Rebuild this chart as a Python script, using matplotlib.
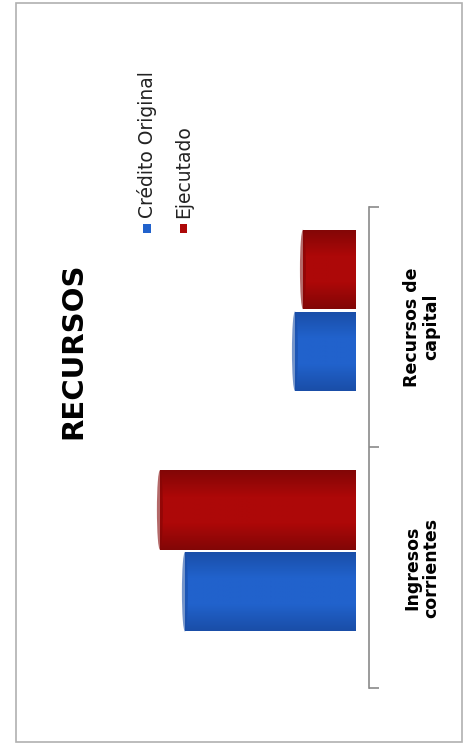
import numpy as np
import matplotlib
matplotlib.use('Agg')
import matplotlib.pyplot as plt
from matplotlib.patches import Rectangle, Ellipse
from matplotlib.colors import LinearSegmentedColormap

# ---------------------------------------------------------------------------
# Data (no value axis is shown, units are relative)
# ---------------------------------------------------------------------------

categories = ['Ingresos\ncorrientes', 'Recursos de\ncapital']
credito_original = [170, 60]
ejecutado = [195, 52]

series_names = ['Crédito Original', 'Ejecutado']
series_colors = ['#2162cc', '#ad0808']
series_dark = ['#1a4ea8', '#820606']

plt.rcParams['font.family'] = ['DejaVu Sans']

fig = plt.figure(figsize=(4.72, 7.47), dpi=100)

# page border from the scan
fig.patches.append(Rectangle((0.034, 0.007), 0.945, 0.989, transform=fig.transFigure,
                             fill=False, ec='#b0b0b0', lw=1.2))

ax = fig.add_axes([0.254, 0.079, 0.498, 0.644])

y = np.arange(len(categories))
h = 0.33
offsets = [-0.10, 0.24]


def cylinder(bar, light, dark):
    """shade a barh patch like a cylinder and put a cap on its open end"""
    x0, y0 = bar.get_x(), bar.get_y()
    w, hh = bar.get_width(), bar.get_height()
    cmap = LinearSegmentedColormap.from_list('c', [dark, light, light, dark])
    grad = np.linspace(0, 1, 64).reshape(-1, 1)
    im = ax.imshow(grad, cmap=cmap, aspect='auto', extent=(x0, x0 + w, y0, y0 + hh),
                   origin='lower', zorder=2)
    im.set_clip_path(bar)
    cap = Ellipse((x0 + w, y0 + hh / 2), width=6, height=hh, fc=dark, ec='none',
                  alpha=0.6, zorder=3)
    ax.add_patch(cap)


for vals, off, c, d in zip([credito_original, ejecutado], offsets, series_colors, series_dark):
    bars = ax.barh(y + off, vals, height=h, color=c, zorder=1)
    for b in bars:
        cylinder(b, c, d)

ax.set_xlim(235, 0)
ax.set_ylim(-0.5, 1.5)

for s in ['top', 'left', 'bottom']:
    ax.spines[s].set_visible(False)
ax.spines['right'].set_position(('outward', 10))
ax.spines['right'].set_color('#8a8a8a')
ax.spines['right'].set_linewidth(1.2)

ax.set_xticks([])
ax.yaxis.tick_right()
ax.set_yticks(y)
ax.set_yticklabels(categories, rotation=90, va='center', ha='center',
                   multialignment='center', fontsize=12.5, fontweight='bold',
                   linespacing=1.1)
ax.tick_params(axis='y', which='major', length=0, pad=38)
ax.set_yticks([-0.5, 0.5, 1.5], minor=True)
ax.tick_params(axis='y', which='minor', length=7, width=1.2, color='#8a8a8a', direction='out')

# title
fig.text(0.155, 0.531, 'RECURSOS', rotation=90, ha='center', va='center',
         fontsize=21, fontweight='bold')

# legend, rotated like the rest of the page
leg_x = [0.311, 0.389]
for lx, name, c in zip(leg_x, series_names, series_colors):
    fig.patches.append(Rectangle((lx - 0.008, 0.688), 0.016, 0.0125,
                                 transform=fig.transFigure, fc=c, ec='none'))
    fig.text(lx, 0.708, name, rotation=90, ha='center', va='bottom', fontsize=13.5,
             color='#222222')

fig.savefig('out.png', dpi=100)
